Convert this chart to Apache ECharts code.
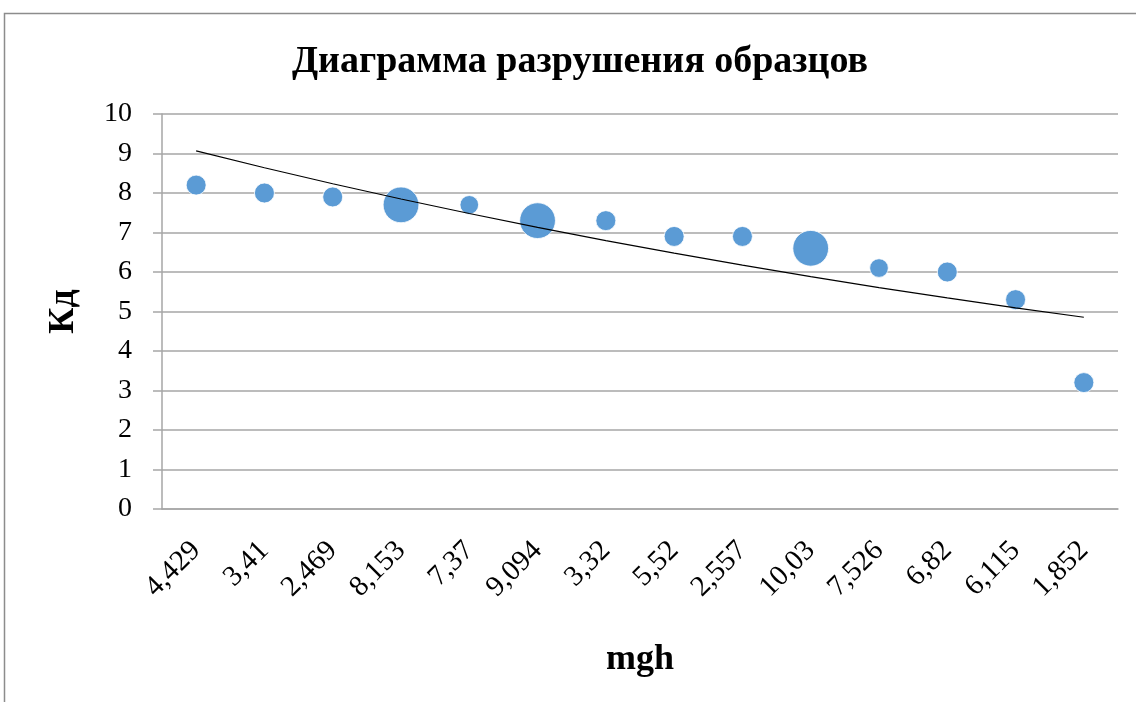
<!DOCTYPE html>
<html>
<head>
<meta charset="utf-8">
<script src="https://cdn.jsdelivr.net/npm/echarts@6/dist/echarts.min.js"></script>
<style>
html,body{margin:0;padding:0;background:#fff;}
#chart{width:1136px;height:702px;}
</style>
</head>
<body>
<div id="chart"></div>
<script>
// Data
var categories = ['4,429','3,41','2,469','8,153','7,37','9,094','3,32','5,52','2,557','10,03','7,526','6,82','6,115','1,852'];
var kdValues = [8.2, 8.0, 7.9, 7.7, 7.7, 7.3, 7.3, 6.9, 6.9, 6.6, 6.1, 6.0, 5.3, 3.2];
var bubbleSizes = [1, 1, 1, 3.2, 0.87, 3.2, 1, 1, 1, 3.2, 0.87, 1, 1, 1];
var yTicks = [0,1,2,3,4,5,6,7,8,9,10];

// Exponential trendline (least squares on ln y vs x = 1..n), as in Excel
function expTrend(vals) {
  var n = vals.length, sx = 0, sy = 0, sxx = 0, sxy = 0;
  for (var i = 0; i < n; i++) {
    var x = i + 1, y = Math.log(vals[i]);
    sx += x; sy += y; sxx += x * x; sxy += x * y;
  }
  var b = (n * sxy - sx * sy) / (n * sxx - sx * sx);
  var a = (sy - b * sx) / n;
  return vals.map(function (_, i) { return Math.exp(a + b * (i + 1)); });
}
var trend = expTrend(kdValues);

var serif = '"Liberation Serif", "DejaVu Serif", serif';
var chart = echarts.init(document.getElementById('chart'));
chart.setOption({
  animation: false,
  backgroundColor: '#ffffff',
  title: {
    text: 'Диаграмма разрушения образцов',
    left: 575, top: 38, textAlign: 'center',
    textStyle: { fontFamily: serif, fontWeight: 'bold', fontSize: 38, color: '#000' }
  },
  grid: { left: 162, right: 18, top: 114, bottom: 193 },
  xAxis: {
    type: 'category',
    data: categories,
    boundaryGap: true,
    name: 'mgh',
    nameLocation: 'middle',
    nameGap: 133,
    nameTextStyle: { fontFamily: serif, fontWeight: 'bold', fontSize: 36, color: '#000' },
    axisLine: { lineStyle: { color: '#a6a6a6', width: 1.5 } },
    axisTick: { show: false },
    axisLabel: { rotate: 45, margin: 37, fontFamily: serif, fontSize: 29, color: '#000', interval: 0 },
    splitLine: { show: false }
  },
  yAxis: {
    type: 'value',
    min: 0, max: 10, interval: 1,
    name: 'Кд',
    nameLocation: 'middle',
    nameGap: 80,
    nameRotate: 90,
    nameTextStyle: { fontFamily: serif, fontWeight: 'bold', fontSize: 36, color: '#000' },
    axisLine: { show: true, lineStyle: { color: '#a6a6a6', width: 1.5 } },
    axisTick: { show: true, length: 9, lineStyle: { color: '#a6a6a6', width: 1.5 } },
    axisLabel: { margin: 30, fontFamily: serif, fontSize: 28, color: '#000',
      formatter: function (v) { return yTicks.indexOf(v) >= 0 ? String(v) : ''; } },
    splitLine: { lineStyle: { color: '#a6a6a6', width: 1.5 } }
  },
  graphic: [{
    type: 'rect', silent: true, z: -1,
    shape: { x: 4.5, y: 13.5, width: 1200, height: 800 },
    style: { fill: 'none', stroke: '#8c8c8c', lineWidth: 1.5 }
  }],
  series: [{
    type: 'scatter',
    data: kdValues.map(function (v, i) { return [i, v, bubbleSizes[i]]; }),
    symbolSize: function (d) { return 20 * Math.sqrt(d[2]); },
    itemStyle: { color: '#5b9bd5', borderColor: '#ffffff', borderWidth: 0.8, opacity: 1 },
    z: 2
  }, {
    type: 'line',
    data: trend,
    symbol: 'none',
    smooth: false,
    lineStyle: { color: '#000', width: 1.2 },
    z: 3
  }]
});
</script>
</body>
</html>
